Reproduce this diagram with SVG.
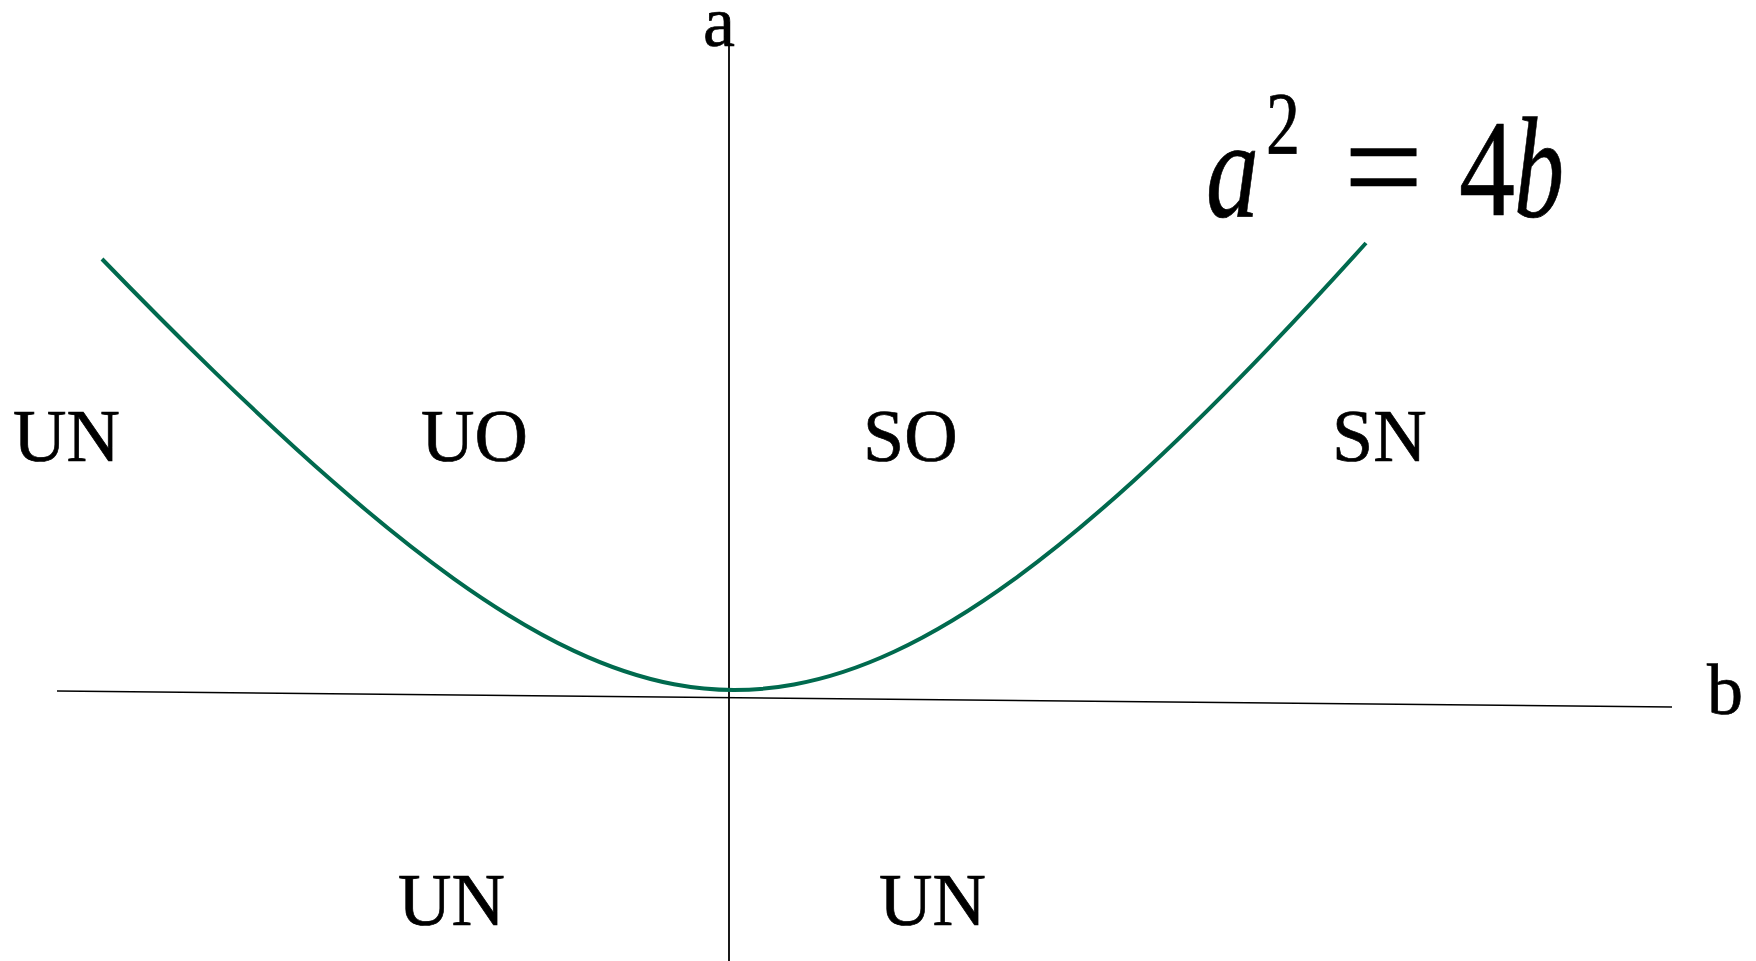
<svg xmlns="http://www.w3.org/2000/svg" width="1756" height="961" viewBox="0 0 1756 961">
<style>
.t{font-family:"Liberation Serif","Times New Roman",serif;fill:#000;stroke:#000;stroke-width:0.7}
.lab{font-size:74px}
.ax{font-size:72px}
.it{font-style:italic}
.axis{stroke:#000;fill:none}
.curve{stroke:#006a4e;stroke-width:4;fill:none;stroke-linejoin:round;stroke-linecap:butt}
</style>
<rect width="1756" height="961" fill="#fff"/>
<g id="connectors">
<line class="axis" x1="729" y1="22" x2="729" y2="961" stroke-width="1.8"/>
<line class="axis" x1="57" y1="691" x2="1672" y2="707" stroke-width="1.6"/>
<path id="curve" class="curve" d="M102,259 C139.33,297.5 176.67,335.1 214,371.4 C254,410.3 294,447.6 334,482.6 C374,517.6 414,550.2 454,578.8 C494,607.4 534,632.1 574,650.9 C607.33,666.5 640.67,678 674,684.3 C694,688.1 714,690 734,690 C754,690 774,688.2 794,684.5 C827.33,678.4 860.67,667.3 894,651.8 C934,633.2 974,608.5 1014,579.4 C1054,550.3 1094,516.8 1134,480.4 C1174,444 1214,404.6 1254,363.3 C1291.33,324.7 1328.67,284.4 1366,243"/>
</g>
<g id="axis-a"><text class="t ax" x="703" y="46">a</text></g>
<g id="axis-b"><text class="t ax" x="1707" y="714">b</text></g>
<g id="formula">
<text class="t it" x="1206" y="217" font-size="140" textLength="53" lengthAdjust="spacingAndGlyphs">a</text>
<text class="t" x="1266" y="153" font-size="89" textLength="34" lengthAdjust="spacingAndGlyphs">2</text>
<text class="t" x="1344" y="217" font-size="150" textLength="79" lengthAdjust="spacingAndGlyphs">=</text>
<text class="t" x="1459" y="215" font-size="138" textLength="56" lengthAdjust="spacingAndGlyphs">4</text>
<text class="t it" x="1514" y="217" font-size="143" textLength="50" lengthAdjust="spacingAndGlyphs">b</text>
</g>
<g id="label-un-left"><text class="t lab" x="13" y="461">UN</text></g>
<g id="label-uo"><text class="t lab" x="421" y="461">UO</text></g>
<g id="label-so"><text class="t lab" x="863" y="461">SO</text></g>
<g id="label-sn"><text class="t lab" x="1332" y="461">SN</text></g>
<g id="label-un-bottom-left"><text class="t lab" x="398" y="925">UN</text></g>
<g id="label-un-bottom-right"><text class="t lab" x="879" y="925">UN</text></g>
</svg>
